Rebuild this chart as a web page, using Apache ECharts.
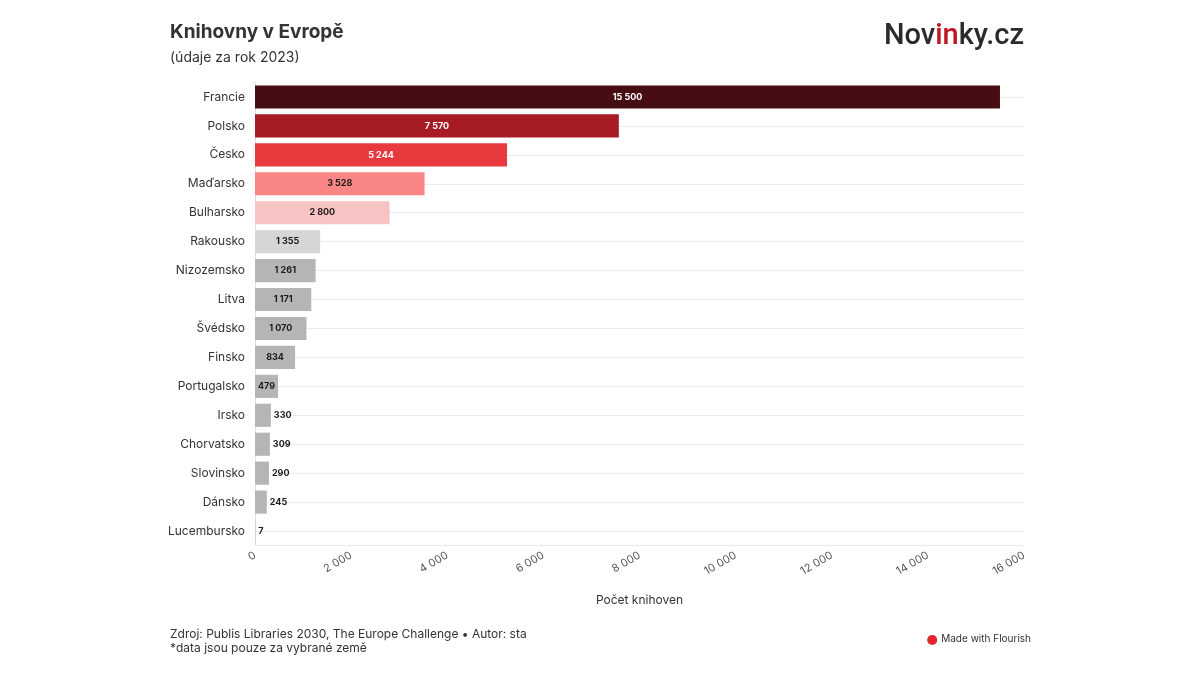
<!DOCTYPE html>
<html>
<head>
<meta charset="utf-8">
<script src="https://cdn.jsdelivr.net/npm/echarts@6/dist/echarts.min.js"></script>
<style>
    html, body { margin: 0; padding: 0; background: #fff; }
    #main { width: 1200px; height: 675px; }
</style>
</head>
<body>
<div id="main"></div>
<script>
let chartDom = document.getElementById('main');
let myChart = echarts.init(chartDom);

// data
const countries = ['Francie', 'Polsko', 'Česko', 'Maďarsko', 'Bulharsko', 'Rakousko', 'Nizozemsko', 'Litva',
    'Švédsko', 'Finsko', 'Portugalsko', 'Irsko', 'Chorvatsko', 'Slovinsko', 'Dánsko', 'Lucembursko'];
const libraries = [15500, 7570, 5244, 3528, 2800, 1355, 1261, 1171, 1070, 834, 479, 330, 309, 290, 245, 7];
const barColors = ['#460e12', '#a71b24', '#e8393f', '#f98585', '#f7c3c3', '#d6d6d6', '#b5b5b5', '#b5b5b5',
    '#b5b5b5', '#b5b5b5', '#b5b5b5', '#b5b5b5', '#b5b5b5', '#b5b5b5', '#b5b5b5', '#b5b5b5'];
const xTicks = [0, 2000, 4000, 6000, 8000, 10000, 12000, 14000, 16000];

const font = 'Inter, "Noto Sans", sans-serif';

function fmt(n) {
    return String(n).replace(/\B(?=(\d{3})+(?!\d))/g, ' ');
}

let barData = libraries.map(function (v, i) {
    let dark = i < 3;
    return {
        value: v,
        itemStyle: { color: barColors[i] },
        label: {
            position: v < 400 ? 'right' : 'inside',
            distance: 3,
            color: dark ? '#ffffff' : '#1a1a1a'
        }
    };
});

let option = {
    animation: false,
    backgroundColor: '#ffffff',
    textStyle: { fontFamily: font },
    title: [
        {
            text: 'Knihovny v Evropě',
            left: 165,
            top: 18,
            textStyle: { fontFamily: font, fontSize: 19, fontWeight: 'bold', color: '#333333' }
        },
        {
            text: '(údaje za rok 2023)',
            left: 165,
            top: 46,
            textStyle: { fontFamily: font, fontSize: 14, fontWeight: 'normal', color: '#333333' }
        },
        {
            text: '{a|Nov}{b|in}{a|ky.cz}',
            right: 171,
            top: 17,
            textStyle: {
                rich: {
                    a: { fontFamily: 'Roboto, Inter, sans-serif', fontSize: 29, fontWeight: 500, color: '#2b2b2b' },
                    b: { fontFamily: 'Roboto, Inter, sans-serif', fontSize: 29, fontWeight: 500, color: '#c0161f' }
                }
            }
        },
        {
            text: 'Zdroj: Publis Libraries 2030, The Europe Challenge • Autor: sta\n*data jsou pouze za vybrané země',
            left: 165,
            top: 622,
            textStyle: { fontFamily: font, fontSize: 12, fontWeight: 'normal', color: '#333333', lineHeight: 14 }
        }
    ],
    graphic: [
        {
            type: 'group',
            right: 169,
            top: 634,
            children: [
                { type: 'circle', shape: { cx: 6, cy: 6, r: 5 }, style: { fill: '#e0262b' } },
                {
                    type: 'text', left: 15, top: 0,
                    style: { text: 'Made with Flourish', fontFamily: font, fontSize: 10, fill: '#333333' }
                }
            ]
        }
    ],
    grid: {
        left: 255,
        right: 176,
        top: 82.5,
        bottom: 129.5
    },
    xAxis: {
        type: 'value',
        min: xTicks[0],
        max: xTicks[xTicks.length - 1],
        interval: xTicks[1] - xTicks[0],
        name: 'Počet knihoven',
        nameLocation: 'middle',
        nameGap: 49,
        nameTextStyle: { fontFamily: font, fontSize: 12, color: '#333333' },
        axisLine: { show: true, lineStyle: { color: '#e8e8e8' } },
        axisTick: { show: false },
        splitLine: { show: false },
        axisLabel: {
            rotate: 30,
            margin: 9,
            fontFamily: font,
            fontSize: 11,
            color: '#555555',
            formatter: function (v) { return fmt(v); }
        }
    },
    yAxis: {
        type: 'category',
        data: countries,
        inverse: true,
        axisLine: { show: true, lineStyle: { color: '#e0e0e0' } },
        axisTick: { show: false },
        axisLabel: { margin: 10, fontFamily: font, fontSize: 12, color: '#333333' },
        splitLine: { show: true, alignWithLabel: true, lineStyle: { color: '#ececec' } }
    },
    series: [
        {
            type: 'bar',
            data: barData,
            barCategoryGap: '20%',
            label: {
                show: true,
                fontFamily: font,
                fontSize: 9,
                fontWeight: 'bold',
                formatter: function (p) { return fmt(p.value); }
            }
        }
    ]
};

myChart.setOption(option);
</script>
</body>
</html>
